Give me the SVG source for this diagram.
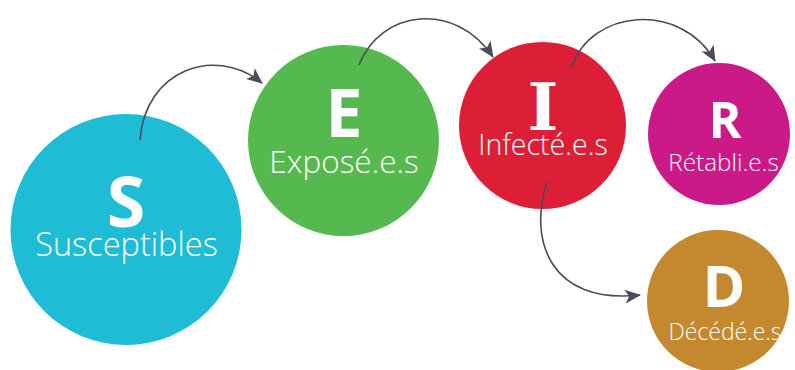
<svg xmlns="http://www.w3.org/2000/svg" width="795" height="370" viewBox="0 0 795 370">
<style>
.big{font-family:"Open Sans","Noto Sans",sans-serif;font-weight:700;fill:#fff;text-anchor:middle}
.serif{font-family:"DejaVu Serif","Liberation Serif",serif;font-weight:700;fill:#fff;text-anchor:middle}
.lbl{font-family:"Open Sans","Noto Sans",sans-serif;font-weight:300;fill:#fff;text-anchor:middle}
.arr{fill:none;stroke:#4a4c58;stroke-width:1.6;marker-end:url(#ah)}
</style>
<defs>
<marker id="ah" markerUnits="userSpaceOnUse" viewBox="0 0 16 14" refX="15" refY="7" markerWidth="16" markerHeight="14" orient="auto">
<path d="M0,0 L16,7 L0,14 L4,7 z" fill="#4a4c58"/>
</marker>
</defs>
<rect width="795" height="370" fill="#fff"/>
<g id="S">
<circle cx="126" cy="229.5" r="115.5" fill="#1fbcd6"/>
<text class="big" x="126" y="227" font-size="70">S</text>
<text class="lbl" x="126.5" y="256" font-size="32.5">Susceptibles</text>
</g>
<g id="E">
<circle cx="343.5" cy="140.5" r="95.5" fill="#55b94f"/>
<text class="big" x="344" y="137" font-size="66">E</text>
<text class="lbl" x="344" y="173" font-size="31.5">Exposé.e.s</text>
</g>
<g id="I">
<circle cx="542.5" cy="125.5" r="83.5" fill="#dc1f36"/>
<text class="serif" x="543" y="130" font-size="66">I</text>
<text class="lbl" x="543" y="155" font-size="28.5">Infecté.e.s</text>
</g>
<g id="R">
<circle cx="719" cy="134" r="71" fill="#cb1a87"/>
<text class="big" x="725" y="138" font-size="50">R</text>
<text class="lbl" x="723.5" y="171" font-size="24.3">Rétabli.e.s</text>
</g>
<g id="D">
<circle cx="718" cy="301" r="71" fill="#c4882e"/>
<text class="big" x="724" y="307" font-size="58">D</text>
<text class="lbl" x="725" y="340" font-size="23">Décédé.e.s</text>
</g>
<g id="connectors">
<path class="arr" d="M140,140 C145,70 215,45 262,83"/>
<path class="arr" d="M359,65 C380,10 455,0 493,57"/>
<path class="arr" d="M572,67 C590,10 680,0 715,61"/>
<path class="arr" d="M547,182 C528,240 550,305 640,295"/>
</g>
</svg>
